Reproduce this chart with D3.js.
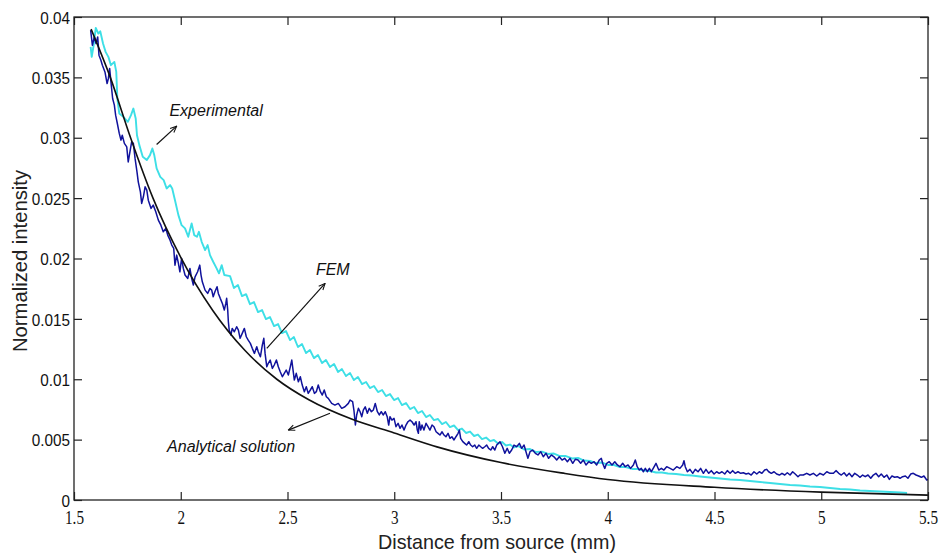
<!DOCTYPE html>
<html>
<head>
<meta charset="utf-8">
<script src="https://cdn.jsdelivr.net/npm/d3@7"></script>
<style>
  body { margin: 0; background: #fff; }
  svg { display: block; }
</style>
</head>
<body>
<script>

// tick values and labels
var xTicks = [1.5, 2, 2.5, 3, 3.5, 4, 4.5, 5, 5.5];
var xTickLabels = ["1.5", "2", "2.5", "3", "3.5", "4", "4.5", "5", "5.5"];
var yTicks = [0, 0.005, 0.01, 0.015, 0.02, 0.025, 0.03, 0.035, 0.04];
var yTickLabels = ["0", "0.005", "0.01", "0.015", "0.02", "0.025", "0.03", "0.035", "0.04"];

var xTitle = "Distance from source (mm)";
var yTitle = "Normalized intensity";

// analytical solution (black)
var analytical = [[1.58,0.0390],[1.67,0.0350],[1.765,0.0300],[1.87,0.0250],[2.0,0.0201],[2.15,0.0157],
  [2.3,0.0124],[2.45,0.0100],[2.6,0.0083],[2.8,0.0067],[3.0,0.00555],[3.2,0.0044],[3.5,0.0031],
  [3.8,0.0022],[4.0,0.0017],[4.5,0.00105],[5.0,0.00065],[5.5,0.0004]];

// experimental (cyan)
var experimental = [[1.578,0.03752],[1.583,0.03670],[1.592,0.03766],[1.602,0.03910],[1.614,0.03863],[1.623,0.03882],
  [1.636,0.03781],[1.648,0.03711],[1.661,0.03670],[1.673,0.03601],[1.689,0.03628],[1.698,0.03545],[1.703,0.03325],
  [1.712,0.03201],[1.731,0.03173],[1.752,0.03132],[1.767,0.03187],[1.778,0.03242],[1.789,0.03160],[1.795,0.03021],
  [1.806,0.02939],[1.822,0.02842],[1.841,0.02815],[1.856,0.02856],[1.867,0.02911],[1.876,0.02856],[1.887,0.02746],
  [1.904,0.02676],[1.920,0.02649],[1.934,0.02580],[1.950,0.02608],[1.960,0.02580],[1.973,0.02483],[1.989,0.02359],
  [2.004,0.02276],[2.020,0.02249],[2.035,0.02180],[2.051,0.02291],[2.063,0.02194],[2.076,0.02180],[2.085,0.02221],
  [2.098,0.02138],[2.114,0.02070],[2.126,0.02111],[2.137,0.02028],[2.152,0.01973],[2.168,0.01918],[2.179,0.01877],
  [2.192,0.01945],[2.204,0.01863],[2.231,0.01854],[2.249,0.01755],[2.268,0.01780],[2.287,0.01689],[2.306,0.01705],
  [2.324,0.01622],[2.343,0.01639],[2.362,0.01556],[2.381,0.01573],[2.399,0.01498],[2.418,0.01515],[2.437,0.01440],
  [2.456,0.01457],[2.474,0.01382],[2.493,0.01399],[2.512,0.01324],[2.530,0.01349],[2.549,0.01267],[2.568,0.01291],
  [2.587,0.01217],[2.605,0.01242],[2.624,0.01175],[2.643,0.01200],[2.662,0.01134],[2.680,0.01159],[2.699,0.01101],
  [2.718,0.01126],[2.737,0.01060],[2.755,0.01084],[2.774,0.01026],[2.793,0.01051],[2.811,0.00993],[2.830,0.01018],
  [2.849,0.00960],[2.868,0.00977],[2.886,0.00927],[2.905,0.00944],[2.924,0.00894],[2.943,0.00911],[2.961,0.00861],
  [2.980,0.00877],[2.999,0.00828],[3.018,0.00844],[3.036,0.00786],[3.055,0.00803],[3.074,0.00753],[3.093,0.00770],
  [3.111,0.00720],[3.130,0.00737],[3.149,0.00687],[3.167,0.00704],[3.186,0.00662],[3.205,0.00671],[3.224,0.00629],
  [3.242,0.00646],[3.261,0.00604],[3.280,0.00617],[3.299,0.00579],[3.317,0.00592],[3.336,0.00555],[3.355,0.00567],
  [3.374,0.00530],[3.392,0.00542],[3.411,0.00505],[3.430,0.00517],[3.449,0.00488],[3.467,0.00497],[3.486,0.00468],
  [3.505,0.00480],[3.523,0.00451],[3.542,0.00459],[3.561,0.00435],[3.580,0.00447],[3.608,0.00418],[3.636,0.00422],
  [3.664,0.00397],[3.692,0.00401],[3.720,0.00381],[3.748,0.00385],[3.776,0.00364],[3.804,0.00364],[3.833,0.00344],
  [3.861,0.00348],[3.889,0.00327],[3.917,0.00323],[3.945,0.00306],[3.973,0.00310],[4.001,0.00290],[4.029,0.00290],
  [4.057,0.00273],[4.085,0.00273],[4.114,0.00257],[4.142,0.00257],[4.170,0.00244],[4.198,0.00240],[4.226,0.00228],
  [4.254,0.00228],[4.282,0.00219],[4.320,0.00215],[4.357,0.00207],[4.395,0.00203],[4.432,0.00195],[4.479,0.00186],
  [4.526,0.00178],[4.573,0.00170],[4.619,0.00166],[4.666,0.00157],[4.713,0.00149],[4.760,0.00141],[4.807,0.00132],
  [4.854,0.00124],[4.900,0.00120],[4.947,0.00112],[4.994,0.00108],[5.041,0.00099],[5.088,0.00091],[5.135,0.00087],
  [5.182,0.00079],[5.228,0.00075],[5.275,0.00070],[5.322,0.00066],[5.369,0.00062],[5.402,0.00058]];

// FEM (dark blue)
var fem = [[1.578,0.03891],[1.586,0.03766],[1.595,0.03835],[1.603,0.03781],[1.611,0.03835],[1.617,0.03684],
  [1.626,0.03642],[1.633,0.03601],[1.645,0.03545],[1.655,0.03449],[1.661,0.03491],[1.667,0.03574],[1.673,0.03463],
  [1.681,0.03325],[1.689,0.03270],[1.695,0.03187],[1.703,0.03118],[1.712,0.03036],[1.720,0.02980],[1.726,0.03021],
  [1.736,0.02953],[1.747,0.02925],[1.754,0.02800],[1.762,0.02883],[1.770,0.02966],[1.778,0.02953],[1.786,0.02829],
  [1.795,0.02718],[1.801,0.02635],[1.811,0.02552],[1.817,0.02456],[1.825,0.02511],[1.833,0.02594],[1.841,0.02566],
  [1.848,0.02483],[1.861,0.02415],[1.871,0.02442],[1.883,0.02387],[1.895,0.02318],[1.907,0.02276],[1.918,0.02221],
  [1.930,0.02249],[1.939,0.02194],[1.950,0.02152],[1.958,0.02111],[1.967,0.02084],[1.973,0.01945],[1.981,0.02028],
  [1.989,0.01959],[1.996,0.01890],[2.004,0.02001],[2.012,0.01918],[2.020,0.01863],[2.033,0.01835],[2.043,0.01918],
  [2.051,0.01835],[2.059,0.01780],[2.067,0.01848],[2.079,0.01890],[2.089,0.01945],[2.095,0.01863],[2.101,0.01807],
  [2.114,0.01738],[2.126,0.01711],[2.137,0.01752],[2.145,0.01738],[2.152,0.01683],[2.160,0.01724],[2.170,0.01766],
  [2.176,0.01711],[2.185,0.01670],[2.195,0.01628],[2.204,0.01573],[2.211,0.01628],[2.215,0.01670],[2.220,0.01573],
  [2.223,0.01476],[2.227,0.01407],[2.235,0.01366],[2.241,0.01421],[2.251,0.01393],[2.262,0.01435],[2.270,0.01407],
  [2.278,0.01339],[2.288,0.01380],[2.298,0.01421],[2.307,0.01352],[2.316,0.01324],[2.326,0.01297],[2.335,0.01256],
  [2.345,0.01214],[2.356,0.01269],[2.363,0.01228],[2.373,0.01186],[2.382,0.01283],[2.389,0.01339],[2.395,0.01214],
  [2.403,0.01103],[2.410,0.01132],[2.419,0.01159],[2.429,0.01090],[2.438,0.01118],[2.448,0.01159],[2.457,0.01103],
  [2.466,0.01062],[2.476,0.01021],[2.485,0.01049],[2.494,0.01076],[2.504,0.01035],[2.513,0.01103],[2.520,0.01159],
  [2.526,0.01076],[2.532,0.00993],[2.541,0.01049],[2.551,0.00979],[2.560,0.01021],[2.569,0.00952],[2.579,0.00897],
  [2.588,0.00938],[2.597,0.00883],[2.607,0.00911],[2.616,0.00938],[2.626,0.00883],[2.635,0.00897],[2.644,0.00952],
  [2.654,0.00897],[2.663,0.00869],[2.672,0.00911],[2.682,0.00855],[2.691,0.00842],[2.707,0.00800],[2.722,0.00786],
  [2.738,0.00800],[2.754,0.00759],[2.769,0.00772],[2.785,0.00800],[2.793,0.00828],[2.805,0.00814],[2.811,0.00745],
  [2.818,0.00621],[2.824,0.00704],[2.832,0.00759],[2.840,0.00731],[2.848,0.00690],[2.855,0.00745],[2.864,0.00772],
  [2.874,0.00718],[2.883,0.00759],[2.893,0.00731],[2.902,0.00745],[2.911,0.00800],[2.921,0.00731],[2.930,0.00704],
  [2.939,0.00731],[2.949,0.00704],[2.958,0.00731],[2.967,0.00690],[2.974,0.00621],[2.980,0.00690],[2.989,0.00662],
  [2.999,0.00676],[3.008,0.00607],[3.018,0.00635],[3.027,0.00594],[3.036,0.00621],[3.046,0.00579],[3.055,0.00621],
  [3.064,0.00648],[3.074,0.00662],[3.083,0.00648],[3.093,0.00621],[3.102,0.00648],[3.108,0.00579],[3.113,0.00552],
  [3.117,0.00648],[3.124,0.00579],[3.130,0.00621],[3.139,0.00579],[3.149,0.00635],[3.158,0.00607],[3.167,0.00579],
  [3.177,0.00621],[3.186,0.00607],[3.196,0.00565],[3.205,0.00552],[3.214,0.00538],[3.224,0.00565],[3.233,0.00538],
  [3.242,0.00524],[3.252,0.00552],[3.261,0.00511],[3.270,0.00524],[3.280,0.00497],[3.289,0.00524],[3.299,0.00552],
  [3.305,0.00579],[3.311,0.00511],[3.321,0.00483],[3.330,0.00469],[3.339,0.00455],[3.349,0.00483],[3.358,0.00455],
  [3.367,0.00441],[3.377,0.00455],[3.386,0.00428],[3.396,0.00455],[3.405,0.00441],[3.414,0.00428],[3.424,0.00441],
  [3.433,0.00455],[3.442,0.00428],[3.452,0.00414],[3.461,0.00441],[3.471,0.00414],[3.480,0.00455],[3.495,0.00483],
  [3.507,0.00441],[3.518,0.00387],[3.529,0.00428],[3.539,0.00387],[3.550,0.00414],[3.561,0.00455],[3.573,0.00441],
  [3.586,0.00469],[3.597,0.00428],[3.608,0.00455],[3.617,0.00400],[3.626,0.00345],[3.636,0.00400],[3.648,0.00414],
  [3.661,0.00387],[3.673,0.00373],[3.686,0.00400],[3.698,0.00358],[3.711,0.00387],[3.723,0.00345],[3.736,0.00373],
  [3.748,0.00358],[3.761,0.00331],[3.773,0.00358],[3.786,0.00331],[3.798,0.00345],[3.811,0.00317],[3.823,0.00345],
  [3.836,0.00304],[3.848,0.00337],[3.861,0.00331],[3.873,0.00304],[3.886,0.00331],[3.898,0.00290],[3.911,0.00317],
  [3.923,0.00304],[3.936,0.00317],[3.948,0.00290],[3.960,0.00331],[3.970,0.00345],[3.976,0.00304],[3.986,0.00262],
  [3.995,0.00304],[4.007,0.00317],[4.020,0.00290],[4.033,0.00317],[4.045,0.00290],[4.057,0.00276],[4.070,0.00304],
  [4.082,0.00276],[4.095,0.00290],[4.107,0.00262],[4.120,0.00290],[4.129,0.00331],[4.138,0.00276],[4.148,0.00248],
  [4.157,0.00262],[4.167,0.00234],[4.176,0.00262],[4.185,0.00234],[4.195,0.00262],[4.204,0.00234],[4.213,0.00262],
  [4.226,0.00304],[4.239,0.00248],[4.251,0.00262],[4.263,0.00248],[4.276,0.00276],[4.292,0.00262],[4.307,0.00248],
  [4.323,0.00276],[4.338,0.00262],[4.351,0.00290],[4.357,0.00325],[4.363,0.00276],[4.373,0.00234],[4.385,0.00254],
  [4.398,0.00221],[4.410,0.00254],[4.423,0.00234],[4.435,0.00262],[4.448,0.00221],[4.460,0.00254],[4.473,0.00221],
  [4.485,0.00243],[4.498,0.00215],[4.510,0.00234],[4.522,0.00221],[4.535,0.00234],[4.548,0.00215],[4.560,0.00243],
  [4.573,0.00221],[4.585,0.00243],[4.597,0.00221],[4.610,0.00234],[4.623,0.00221],[4.635,0.00226],[4.648,0.00215],
  [4.660,0.00221],[4.672,0.00207],[4.685,0.00234],[4.698,0.00215],[4.710,0.00234],[4.722,0.00221],[4.735,0.00248],
  [4.744,0.00254],[4.754,0.00234],[4.766,0.00221],[4.779,0.00234],[4.791,0.00215],[4.804,0.00207],[4.816,0.00221],
  [4.829,0.00207],[4.841,0.00226],[4.854,0.00207],[4.866,0.00234],[4.878,0.00215],[4.891,0.00193],[4.900,0.00207],
  [4.916,0.00207],[4.932,0.00221],[4.947,0.00207],[4.963,0.00221],[4.979,0.00199],[4.994,0.00221],[5.010,0.00207],
  [5.026,0.00234],[5.041,0.00221],[5.057,0.00221],[5.069,0.00243],[5.082,0.00221],[5.094,0.00207],[5.107,0.00226],
  [5.119,0.00199],[5.131,0.00221],[5.144,0.00193],[5.157,0.00221],[5.169,0.00207],[5.181,0.00188],[5.194,0.00207],
  [5.206,0.00193],[5.219,0.00207],[5.232,0.00180],[5.244,0.00207],[5.256,0.00221],[5.269,0.00193],[5.281,0.00215],
  [5.294,0.00188],[5.307,0.00207],[5.319,0.00171],[5.331,0.00199],[5.344,0.00188],[5.356,0.00193],[5.369,0.00180],
  [5.381,0.00193],[5.394,0.00199],[5.406,0.00180],[5.419,0.00215],[5.431,0.00221],[5.444,0.00207],[5.456,0.00199],
  [5.469,0.00188],[5.481,0.00199],[5.494,0.00166],[5.500,0.00171]];

// text labels with arrows, in data units
var annotations = [
  {label: "Experimental",        tx: 1.947, ty: 0.03179, from: [1.887, 0.02944], to: [1.981, 0.03096]},
  {label: "FEM",                 tx: 2.633, ty: 0.01863, from: [2.403, 0.01256], to: [2.676, 0.01794]},
  {label: "Analytical solution", tx: 1.936, ty: 0.00397, from: [2.699, 0.00718], to: [2.504, 0.00579]}
];

var margin = {top: 17, right: 13, bottom: 54, left: 74};
var width = 941 - margin.left - margin.right;
var height = 554 - margin.top - margin.bottom;

var xScale = d3.scaleLinear().domain([1.5, 5.5]).range([0, width]);
var yScale = d3.scaleLinear().domain([0, 0.04]).range([height, 0]);

var svg = d3.select("body").append("svg")
    .attr("width", width + margin.left + margin.right)
    .attr("height", height + margin.top + margin.bottom)
    .style("background", "#fff")
  .append("g")
    .attr("transform", "translate(" + margin.left + "," + margin.top + ")");

svg.append("defs").append("clipPath").attr("id", "plotclip")
  .append("rect").attr("width", width).attr("height", height);

svg.select("defs").append("marker")
    .attr("id", "arrowhead")
    .attr("viewBox", "0 0 10 10")
    .attr("refX", 9).attr("refY", 5)
    .attr("markerWidth", 8).attr("markerHeight", 8)
    .attr("markerUnits", "userSpaceOnUse")
    .attr("orient", "auto")
  .append("path")
    .attr("d", "M1,1.5 L9,5 L1,8.5")
    .attr("fill", "none")
    .attr("stroke", "#111")
    .attr("stroke-width", 1.3);

// axes: ticks point inwards on all four sides
var xAxis = d3.axisBottom(xScale).tickValues(xTicks)
    .tickFormat(function(d, i) { return xTickLabels[i]; })
    .tickSizeInner(-8).tickSizeOuter(0);
var xAxisTop = d3.axisTop(xScale).tickValues(xTicks).tickFormat("")
    .tickSizeInner(-8).tickSizeOuter(0);
var yAxis = d3.axisLeft(yScale).tickValues(yTicks)
    .tickFormat(function(d, i) { return yTickLabels[i]; })
    .tickSizeInner(-8).tickSizeOuter(0).tickPadding(4);
var yAxisRight = d3.axisRight(yScale).tickValues(yTicks).tickFormat("")
    .tickSizeInner(-8).tickSizeOuter(0);

var gx = svg.append("g").attr("class", "x axis")
    .attr("transform", "translate(0," + height + ")").call(xAxis);
gx.selectAll("text")
    .attr("y", 24).attr("dy", null)
    .attr("transform", "scale(0.8,1)")
    .style("font-family", "'Liberation Serif', serif")
    .style("font-size", "19px")
    .attr("fill", "#111");

svg.append("g").attr("class", "x axis top").call(xAxisTop);

var gy = svg.append("g").attr("class", "y axis").call(yAxis);
gy.selectAll("text")
    .attr("x", -4.5).attr("dy", "0.36em")
    .attr("transform", "scale(0.9,1)")
    .style("font-family", "'Liberation Sans', Arial, sans-serif")
    .style("font-size", "17px")
    .attr("fill", "#111");

svg.append("g").attr("class", "y axis right")
    .attr("transform", "translate(" + width + ",0)").call(yAxisRight);

svg.selectAll(".axis .domain").remove();
svg.selectAll(".axis .tick line").attr("stroke", "#222").attr("stroke-width", 1.2);

// curves
var line = d3.line()
    .x(function(d) { return xScale(d[0]); })
    .y(function(d) { return yScale(d[1]); });

var smooth = d3.line()
    .x(function(d) { return xScale(d[0]); })
    .y(function(d) { return yScale(d[1]); })
    .curve(d3.curveMonotoneX);

var plot = svg.append("g").attr("clip-path", "url(#plotclip)");

plot.append("path").datum(experimental)
    .attr("d", line)
    .attr("fill", "none")
    .attr("stroke", "#3ddfe6")
    .attr("stroke-width", 1.9)
    .attr("stroke-linejoin", "round");

plot.append("path").datum(fem)
    .attr("d", line)
    .attr("fill", "none")
    .attr("stroke", "#10129c")
    .attr("stroke-width", 1.5)
    .attr("stroke-linejoin", "round");

plot.append("path").datum(analytical)
    .attr("d", smooth)
    .attr("fill", "none")
    .attr("stroke", "#111")
    .attr("stroke-width", 1.6);

// frame
svg.append("rect")
    .attr("width", width).attr("height", height)
    .attr("fill", "none")
    .attr("stroke", "#222")
    .attr("stroke-width", 1.3);

// annotations
var notes = svg.append("g").attr("class", "notes");

notes.selectAll("line").data(annotations).enter()
  .append("line")
    .attr("x1", function(d) { return xScale(d.from[0]); })
    .attr("y1", function(d) { return yScale(d.from[1]); })
    .attr("x2", function(d) { return xScale(d.to[0]); })
    .attr("y2", function(d) { return yScale(d.to[1]); })
    .attr("stroke", "#111")
    .attr("stroke-width", 1.2)
    .attr("marker-end", "url(#arrowhead)");

notes.selectAll("text").data(annotations).enter()
  .append("text")
    .attr("x", function(d) { return xScale(d.tx); })
    .attr("y", function(d) { return yScale(d.ty); })
    .style("font-family", "'Liberation Sans', Arial, sans-serif")
    .style("font-style", "italic")
    .style("font-size", "16px")
    .attr("fill", "#111")
    .text(function(d) { return d.label; });

// axis titles
svg.append("text")
    .attr("x", width / 2 - 4)
    .attr("y", height + 49)
    .attr("text-anchor", "middle")
    .attr("textLength", 238)
    .attr("lengthAdjust", "spacingAndGlyphs")
    .style("font-family", "'Liberation Sans', Arial, sans-serif")
    .style("font-size", "21px")
    .attr("fill", "#222")
    .text(xTitle);

svg.append("text")
    .attr("transform", "translate(" + (-47) + "," + (244) + ") rotate(-90)")
    .attr("text-anchor", "middle")
    .attr("textLength", 182)
    .attr("lengthAdjust", "spacingAndGlyphs")
    .style("font-family", "'Liberation Sans', Arial, sans-serif")
    .style("font-size", "20px")
    .attr("fill", "#222")
    .text(yTitle);

</script>
</body>
</html>
